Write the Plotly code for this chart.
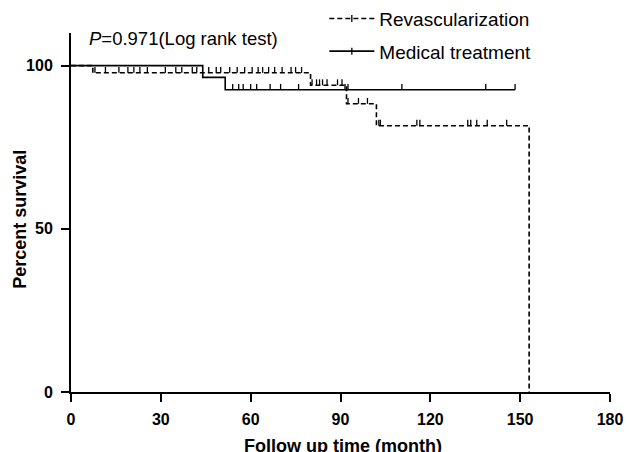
import plotly.graph_objects as go

# --- Kaplan-Meier step data (time in months, percent survival) ---
revasc_time = [0, 7.3, 80, 92, 102, 153]
revasc_surv = [100, 97.8, 94.0, 88.3, 81.6, 0]

medical_time = [0, 44, 51.5, 148.3]
medical_surv = [100, 96.4, 92.6, 92.6]

# censor ticks (time, level)
revasc_cens_time = [8, 11.5, 16, 19, 21, 23, 25.5, 31.5, 35, 37, 40.5, 42, 46, 48.5, 50,
                    53, 55.5, 58, 60.5, 62.5, 64, 66, 68, 70.5, 73.5, 75, 77,
                    80.5, 82, 83, 84, 85.5, 89, 90.5,
                    92.5, 96, 99,
                    102.8, 103.3, 115.5, 116.5, 132.5, 133.5, 135.5, 139, 145.5]
revasc_cens_level = [97.8] * 27 + [94.0] * 7 + [88.3] * 3 + [81.6] * 9

medical_cens_time = [54, 56, 57.5, 60, 62, 66.5, 70, 76, 91.5, 92.5, 110.5, 138.5, 148.3]
medical_cens_level = [92.6] * 13

tick_h = 1.8

x_ticks = [0, 30, 60, 90, 120, 150, 180]
y_ticks = [0, 50, 100]

x_title = "Follow up time (month)"
y_title = "Percent survival"

FONT = "Liberation Sans, Arial, sans-serif"


def seg(ts, ls, h):
    xs, ys = [], []
    for t, l in zip(ts, ls):
        xs += [t, t, None]
        ys += [l, l + h, None]
    return xs, ys


fig = go.Figure()

fig.add_trace(go.Scatter(x=revasc_time, y=revasc_surv, mode="lines", line_shape="hv",
                         line=dict(color="black", width=1.6, dash="5px,3px"),
                         showlegend=False, hoverinfo="skip"))
fig.add_trace(go.Scatter(x=medical_time, y=medical_surv, mode="lines", line_shape="hv",
                         line=dict(color="black", width=1.6),
                         showlegend=False, hoverinfo="skip"))
rx, ry = seg(revasc_cens_time, revasc_cens_level, tick_h)
fig.add_trace(go.Scatter(x=rx, y=ry, mode="lines", line=dict(color="black", width=1.3),
                         showlegend=False, hoverinfo="skip"))
mx, my = seg(medical_cens_time, medical_cens_level, tick_h)
fig.add_trace(go.Scatter(x=mx, y=my, mode="lines", line=dict(color="black", width=1.3),
                         showlegend=False, hoverinfo="skip"))

# legend entries
fig.add_trace(go.Scatter(x=[None], y=[None], mode="lines+markers", name="Revascularization",
                         line=dict(color="black", width=1.6, dash="5px,3px"),
                         marker=dict(symbol="line-ns-open", size=5, color="black",
                                     line=dict(width=1.3, color="black")),
                         legendgroup="a"))
fig.add_trace(go.Scatter(x=[None], y=[None], mode="lines+markers", name="Medical treatment",
                         line=dict(color="black", width=1.6),
                         marker=dict(symbol="line-ns-open", size=5, color="black",
                                     line=dict(width=1.3, color="black")),
                         legendgroup="b"))

fig.add_annotation(text="<i>P</i>=0.971(Log rank test)", xref="paper", yref="paper",
                   x=0.03, y=0.985, xanchor="left", yanchor="middle", showarrow=False,
                   font=dict(family=FONT, size=18.5, color="black"))

# axis titles
fig.add_annotation(text=x_title, xref="paper", yref="paper", x=0.505, y=-0.15,
                   xanchor="center", yanchor="middle", showarrow=False,
                   font=dict(family=FONT, size=18, color="black", weight="bold"))
fig.add_annotation(text=y_title, xref="paper", yref="paper", x=-0.095, y=0.482,
                   textangle=-90, xanchor="center", yanchor="middle", showarrow=False,
                   font=dict(family=FONT, size=18, color="black", weight="bold"))

fig.update_layout(
    width=629, height=452,
    margin=dict(l=71, r=19, t=33, b=60, autoexpand=False),
    paper_bgcolor="white", plot_bgcolor="white",
    font=dict(family=FONT, color="black"),
    legend=dict(x=0.47, y=1.093, xanchor="left", yanchor="top",
                font=dict(family=FONT, size=19, color="black"),
                traceorder="grouped", tracegroupgap=5, itemwidth=45,
                bgcolor="rgba(0,0,0,0)"),
    xaxis=dict(range=[0, 180], tickvals=x_ticks, ticktext=[str(v) for v in x_ticks],
               showline=True, linecolor="black", linewidth=2, ticks="outside",
               ticklen=8, tickwidth=2, tickcolor="black", showgrid=False, zeroline=False,
               automargin=False, ticklabelstandoff=4,
               tickfont=dict(family=FONT, size=16, color="black", weight="bold")),
    yaxis=dict(range=[0, 110], tickvals=y_ticks, ticktext=[str(v) for v in y_ticks],
               showline=True, linecolor="black", linewidth=2, ticks="outside",
               ticklen=8, tickwidth=2, tickcolor="black", showgrid=False, zeroline=False,
               automargin=False, ticklabelstandoff=5,
               tickfont=dict(family=FONT, size=16, color="black", weight="bold")),
)

fig.write_html("out.html")
